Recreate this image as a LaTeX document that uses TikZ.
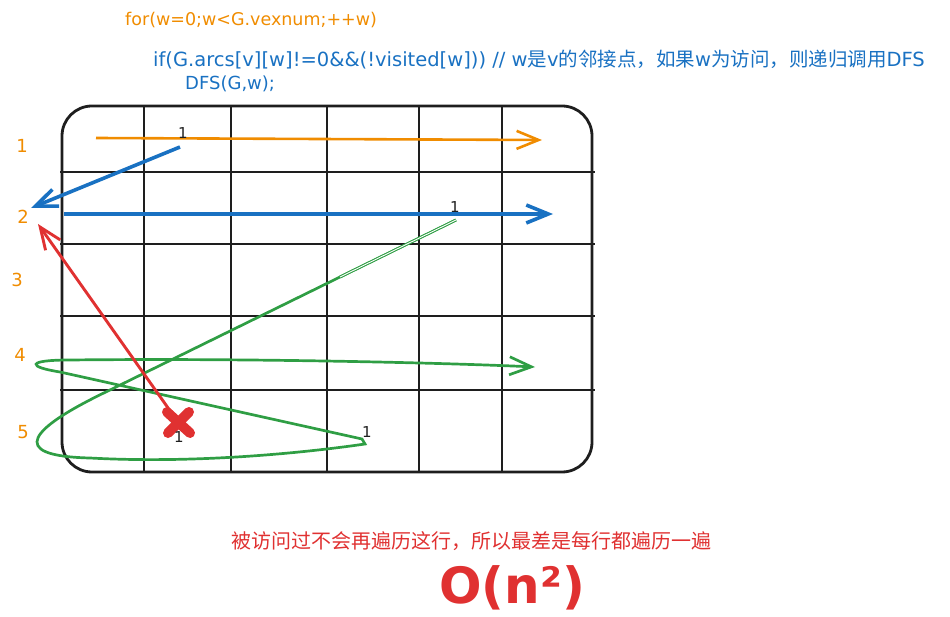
\documentclass[tikz,border=0pt]{standalone}
\usepackage{fontspec}
\setmainfont{DejaVu Sans}
\newfontfamily\cjk{Noto Sans CJK SC}
\usetikzlibrary{arrows.meta}
\definecolor{excorange}{HTML}{F08C00}
\definecolor{excblue}{HTML}{1971C2}
\definecolor{excgreen}{HTML}{2F9E44}
\definecolor{excred}{HTML}{E03131}
\definecolor{inkblack}{HTML}{1E1E1E}
\newcommand{\zh}[1]{{\cjk\fontsize{19.5}{20}\selectfont #1}}

\tikzset{
  gridline/.style={line width=2.8pt, draw=inkblack},
  pass/.style={line width=#1, -{Straight Barb[length=22pt,width=18pt]}},
  rowlabel/.style={text=excorange, inner sep=0pt, font=\fontsize{18}{18}\selectfont},
  hitlabel/.style={text=inkblack, inner sep=0pt, font=\fontsize{15}{15}\selectfont},
  codeline/.style={anchor=west, inner sep=0pt}
}

\begin{document}
\begin{tikzpicture}[x=1pt, y=-1pt]
  \useasboundingbox (0,0) rectangle (950,617);

  % adjacency matrix grid
  \draw[gridline, rounded corners=30pt] (62,106) rectangle (592,472);
  \foreach \gx in {144,231,327,419,502}
    \draw[gridline] (\gx,106) -- (\gx,473);
  \foreach \gy in {172,244,316,390}
    \draw[gridline] (60,\gy) -- (595,\gy);

  % code
  \node[codeline, text=excorange, font=\fontsize{17.5}{18}\selectfont] (forline) at (125,20) {for(w=0;w<G.vexnum;++w)};
  \node[codeline, text=excblue, font=\fontsize{19.5}{20}\selectfont] (ifline) at (153,60)
    {if(G.arcs[v][w]!=0\&\&(!visited[w])) // w\zh{是}v\zh{的邻接点，如果}w\zh{为访问，则递归调用}DFS};
  \node[codeline, text=excblue, font=\fontsize{18}{18}\selectfont] (callline) at (185,84) {DFS(G,w);};

  % row numbers
  \node[rowlabel] (r1) at (22,146) {1};
  \node[rowlabel] (r2) at (23,217) {2};
  \node[rowlabel] (r3) at (17,280) {3};
  \node[rowlabel] (r4) at (20,355) {4};
  \node[rowlabel] (r5) at (23,432) {5};

  % end points
  \coordinate (o1) at (96,138);
  \coordinate (o2) at (542,140);
  \coordinate (b0) at (180,147);
  \coordinate (b1) at (31,208);
  \coordinate (b2) at (64,214);
  \coordinate (b3) at (553,214);
  \coordinate (g1) at (456,220);
  \coordinate (g2) at (340,277);
  \coordinate (g3) at (365,444);
  \coordinate (g4) at (535,367);
  \coordinate (cross) at (178,422);
  \coordinate (back) at (38,224);

  % row 1
  \draw[pass=2.6pt, excorange] (o1) -- (o2);
  \node[hitlabel] (hit1) at (183,133) {1};
  \draw[pass=3.6pt, excblue] (b0) -- (b1);

  % row 2
  \draw[pass=3.6pt, excblue] (b2) -- (b3);
  \node[hitlabel] (hit2) at (455,207) {1};

  % rows 5 and 4
  \draw[pass=2.7pt, excgreen] (g1) -- (110,390)
    .. controls (30,428) and (5,456) .. (90,458)
    .. controls (200,464) and (310,452) .. (g3) -- (362,439) -- (60,372)
    .. controls (28,367) and (25,360) .. (70,360)
    .. controls (250,358) and (450,363) .. (g4);
  \draw[excgreen, line width=1pt, double=white, double distance=0.9pt] (g1) -- (g2);
  \node[hitlabel] (hit5) at (367,432) {1};

  % dead end, go back
  \draw[pass=2.9pt, excred] (cross) -- (back);
  \draw[excred, line width=10pt, line cap=round] (167,412) -- (190,433) (189,412) -- (168,433);
  \node[hitlabel] (hitx) at (179,437) {1};

  % conclusion
  \node[text=excred, inner sep=0pt, font=\cjk\fontsize{20}{20}\selectfont] (note) at (471,541)
    {被访问过不会再遍历这行，所以最差是每行都遍历一遍};
  \node[text=excred, inner sep=0pt, font=\bfseries\fontsize{50}{50}\selectfont] (cost) at (512,588) {O(n²)};
\end{tikzpicture}
\end{document}
